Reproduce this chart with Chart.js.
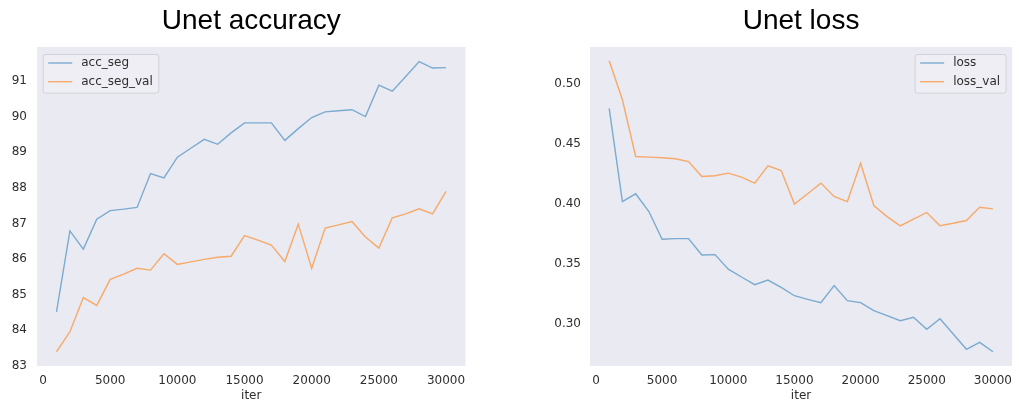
<!DOCTYPE html>
<html>
<head>
<meta charset="utf-8">
<script src="https://cdn.jsdelivr.net/npm/chart.js@4/dist/chart.umd.min.js"></script>
<style>
  html, body { margin: 0; padding: 0; background: #ffffff; overflow: hidden; }
  body { width: 1019px; height: 404px; position: relative; }
  canvas { position: absolute; top: 0; }
  #accChart { left: 0; }
  #lossChart { left: 540px; }
</style>
</head>
<body>
<canvas id="accChart" width="500" height="404"></canvas>
<canvas id="lossChart" width="480" height="404"></canvas>
<script>
// Training iterations at which metrics were logged
const iters = [1000, 2000, 3000, 4000, 5000, 6000, 7000, 8000, 9000, 10000,
               11000, 12000, 13000, 14000, 15000, 16000, 17000, 18000, 19000, 20000,
               21000, 22000, 23000, 24000, 25000, 26000, 27000, 28000, 29000, 30000];

// Segmentation accuracy (%)
const accSeg = [84.52, 86.79, 86.28, 87.12, 87.36, 87.40, 87.45, 88.40, 88.28, 88.86,
                89.11, 89.36, 89.22, 89.54, 89.82, 89.82, 89.82, 89.33, 89.66, 89.97,
                90.13, 90.16, 90.19, 90.00, 90.88, 90.71, 91.12, 91.54, 91.36, 91.37];
const accSegVal = [83.40, 83.96, 84.92, 84.70, 85.43, 85.58, 85.74, 85.69, 86.15, 85.85,
                   85.92, 85.99, 86.05, 86.08, 86.66, 86.53, 86.39, 85.93, 86.98, 85.74,
                   86.87, 86.96, 87.05, 86.62, 86.31, 87.16, 87.27, 87.41, 87.27, 87.90];

// Loss
const loss = [0.4798, 0.4021, 0.4086, 0.3938, 0.3707, 0.3712, 0.3712, 0.3576, 0.3579, 0.3457,
              0.3392, 0.3328, 0.3367, 0.3306, 0.3236, 0.3206, 0.3178, 0.3320, 0.3195, 0.3178,
              0.3111, 0.3070, 0.3028, 0.3056, 0.2956, 0.3044, 0.2917, 0.2789, 0.2847, 0.2769];
const lossVal = [0.5195, 0.4870, 0.4397, 0.4392, 0.4386, 0.4378, 0.4355, 0.4230, 0.4236, 0.4258,
                 0.4225, 0.4175, 0.4320, 0.4280, 0.4000, 0.4086, 0.4175, 0.4064, 0.4021, 0.4340,
                 0.3988, 0.3896, 0.3818, 0.3874, 0.3930, 0.3820, 0.3840, 0.3863, 0.3974, 0.3960];

// Tick labels
const iterTicks = [0, 5000, 10000, 15000, 20000, 25000, 30000];
const accTicks = [83, 84, 85, 86, 87, 88, 89, 90, 91];
const lossTicks = [0.30, 0.35, 0.40, 0.45, 0.50];

const BLUE = 'rgba(31,119,180,0.55)';
const ORANGE = 'rgba(255,127,14,0.6)';
const PANEL_BG = '#eaeaf2';
const TEXT = '#2e2e2e';
const TICK_FONT = { family: '"DejaVu Sans", sans-serif', size: 12 };

const toPoints = (xs, ys) => xs.map((x, i) => ({ x: x, y: ys[i] }));

// Axes panel background
const panelBackground = {
  id: 'panelBackground',
  beforeDraw(chart) {
    const a = chart.chartArea, ctx = chart.ctx;
    ctx.save();
    ctx.fillStyle = PANEL_BG;
    ctx.fillRect(a.left, a.top, a.right - a.left, a.bottom - a.top);
    ctx.restore();
  }
};

// Heading centred over the axes panel
const panelTitle = {
  id: 'panelTitle',
  afterDraw(chart, args, opts) {
    const a = chart.chartArea, ctx = chart.ctx;
    ctx.save();
    ctx.font = '28px "Liberation Sans", Arial, sans-serif';
    ctx.fillStyle = '#000000';
    ctx.textAlign = 'center';
    ctx.textBaseline = 'alphabetic';
    ctx.fillText(opts.text, (a.left + a.right) / 2, 29);
    ctx.restore();
  }
};

// Framed legend inside the axes panel
const framedLegend = {
  id: 'framedLegend',
  afterDatasetsDraw(chart, args, opts) {
    const a = chart.chartArea, ctx = chart.ctx;
    const sets = chart.data.datasets;
    ctx.save();
    ctx.font = '12px "DejaVu Sans", sans-serif';
    const textW = Math.max(...sets.map(d => ctx.measureText(d.label).width));
    const padX = 5.5, lineLen = 24, gap = 9, rowH = 18.7, padTop = 9, padBottom = 11;
    const w = padX + lineLen + gap + textW + padX;
    const h = padTop + rowH * (sets.length - 1) + padBottom;
    const x = opts.align === 'right' ? a.right - 6.5 - w : a.left + 5.7;
    const y = a.top + 7;
    ctx.beginPath();
    ctx.roundRect(x + 0.5, y + 0.5, w, h, 2.5);
    ctx.fillStyle = 'rgba(238,238,245,0.85)';
    ctx.fill();
    ctx.strokeStyle = '#d2d2da';
    ctx.lineWidth = 1;
    ctx.stroke();
    ctx.textBaseline = 'middle';
    ctx.textAlign = 'left';
    sets.forEach((d, i) => {
      const cy = y + padTop + rowH * i;
      ctx.beginPath();
      ctx.moveTo(x + padX, cy);
      ctx.lineTo(x + padX + lineLen, cy);
      ctx.strokeStyle = d.borderColor;
      ctx.lineWidth = 1.4;
      ctx.stroke();
      ctx.fillStyle = TEXT;
      ctx.fillText(d.label, x + padX + lineLen + gap, cy);
    });
    ctx.restore();
  }
};

function makeChart(id, cfg) {
  const yAxisWidth = cfg.yAxisWidth;
  return new Chart(document.getElementById(id), {
    type: 'line',
    data: {
      datasets: cfg.series.map(s => ({
        label: s.label,
        data: toPoints(iters, s.values),
        borderColor: s.color,
        backgroundColor: s.color,
        borderWidth: 1.4,
        pointRadius: 0,
        tension: 0,
        fill: false
      }))
    },
    options: {
      responsive: false,
      animation: false,
      devicePixelRatio: 1,
      layout: { padding: { top: 47, right: cfg.padRight, bottom: 0, left: 0 } },
      plugins: {
        legend: { display: false },
        tooltip: { enabled: false },
        panelTitle: { text: cfg.title },
        framedLegend: { align: cfg.legendAlign }
      },
      scales: {
        x: {
          type: 'linear',
          min: -450,
          max: 31450,
          grid: { display: false, drawTicks: false },
          border: { display: false },
          ticks: {
            font: TICK_FONT, color: TEXT, padding: 8, maxRotation: 0,
            callback: v => String(v)
          },
          afterBuildTicks: s => { s.ticks = iterTicks.map(v => ({ value: v })); },
          afterFit: s => { s.height = 38; },
          title: { display: true, text: 'iter', font: TICK_FONT, color: TEXT, padding: { top: 0, bottom: 1 } }
        },
        y: {
          type: 'linear',
          min: cfg.yMin,
          max: cfg.yMax,
          grid: { display: false, drawTicks: false },
          border: { display: false },
          ticks: {
            font: TICK_FONT, color: TEXT, padding: cfg.yPad,
            callback: v => cfg.yFormat(v)
          },
          afterBuildTicks: s => { s.ticks = cfg.yTicks.map(v => ({ value: v })); },
          afterFit: s => { s.width = yAxisWidth; }
        }
      }
    },
    plugins: [panelBackground, panelTitle, framedLegend]
  });
}

makeChart('accChart', {
  title: 'Unet accuracy',
  series: [
    { label: 'acc_seg', values: accSeg, color: BLUE },
    { label: 'acc_seg_val', values: accSegVal, color: ORANGE }
  ],
  yMin: 83.0, yMax: 91.95,
  yTicks: accTicks,
  yFormat: v => String(v),
  yAxisWidth: 37, yPad: 10, padRight: 34.5,
  legendAlign: 'left'
});

makeChart('lossChart', {
  title: 'Unet loss',
  series: [
    { label: 'loss', values: loss, color: BLUE },
    { label: 'loss_val', values: lossVal, color: ORANGE }
  ],
  yMin: 0.265, yMax: 0.531,
  yTicks: lossTicks,
  yFormat: v => v.toFixed(2),
  yAxisWidth: 50, yPad: 9, padRight: 0,
  legendAlign: 'right'
});
</script>
</body>
</html>
